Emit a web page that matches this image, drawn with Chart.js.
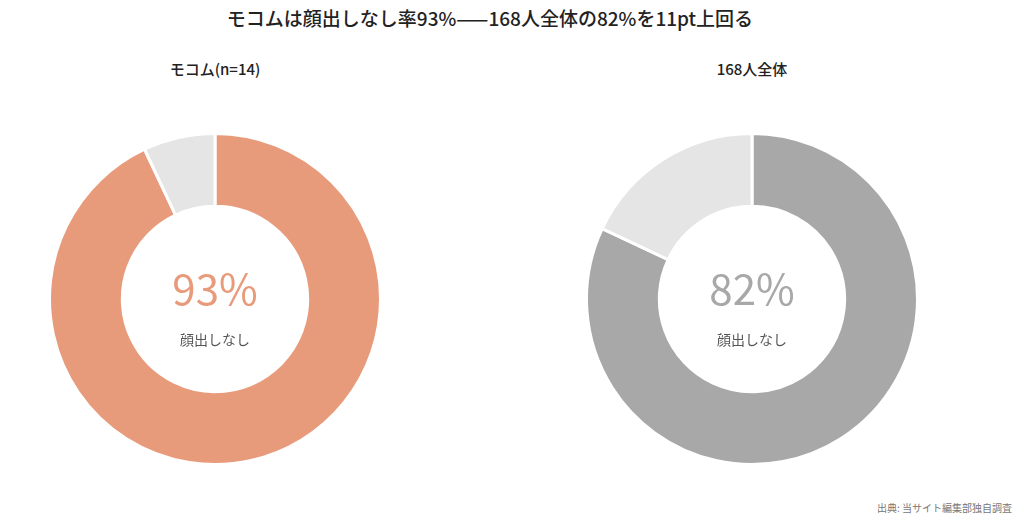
<!DOCTYPE html>
<html>
<head>
<meta charset="utf-8">
<script src="https://cdn.jsdelivr.net/npm/chart.js@4/dist/chart.umd.min.js"></script>
<style>
  body { margin: 0; width: 1024px; height: 523px; background: #fff; position: relative; overflow: hidden;
         font-family: "Noto Sans CJK JP", "Noto Sans", sans-serif; }
  .title { position: absolute; left: 0; width: 980px; top: 4px; text-align: center; font-size: 19px; font-weight: 500; color: #222; }
  .sub { position: absolute; width: 300px; top: 58px; text-align: center; font-size: 15px; font-weight: 500; color: #222; }
  .src { position: absolute; right: 12px; bottom: 8px; font-size: 10px; color: #777; }
  canvas { position: absolute; }
</style>
</head>
<body>
<div class="title">モコムは顔出しなし率93%——168人全体の82%を11pt上回る</div>
<div class="sub" style="left:65px">モコム(n=14)</div>
<div class="sub" style="left:602px">168人全体</div>
<div class="src">出典: 当サイト編集部独自調査</div>
<div style="position:absolute;left:48px;top:132px;width:334px;height:334px"><canvas id="graficoMocom"></canvas></div>
<div style="position:absolute;left:585px;top:132px;width:334px;height:334px"><canvas id="graficoTotal"></canvas></div>
<script>
// データ
const categorias = ['顔出しなし', '顔出しあり'];
const mocomValores = [93, 7];
const totalValores = [82, 18];
const rotuloCentral = '顔出しなし';

// 中央テキスト
const textoCentral = {
  id: 'textoCentral',
  afterDraw(chart, args, opts) {
    const { ctx } = chart;
    const meta = chart.getDatasetMeta(0).data[0];
    const x = meta.x, y = meta.y;
    ctx.save();
    ctx.textAlign = 'center';
    ctx.textBaseline = 'middle';
    ctx.fillStyle = opts.color;
    ctx.font = '400 42px "Noto Sans CJK JP", "Noto Sans", sans-serif';
    ctx.fillText(chart.data.datasets[0].data[0] + '%', x, y - 10);
    ctx.fillStyle = '#555';
    ctx.font = '400 14px "Noto Sans CJK JP", "Noto Sans", sans-serif';
    ctx.fillText(rotuloCentral, x, y + 41);
    ctx.restore();
  }
};

function renderDonut(id, valores, cores, corTexto) {
  const ctx = document.getElementById(id).getContext('2d');
  new Chart(ctx, {
    type: 'doughnut',
    data: {
      labels: categorias,
      datasets: [{
        data: valores,
        backgroundColor: cores,
        borderColor: '#fff',
        borderWidth: 3
      }]
    },
    options: {
      responsive: true,
      maintainAspectRatio: false,
      animation: false,
      cutout: '56%',
      layout: { padding: 0 },
      plugins: {
        legend: { display: false },
        tooltip: { enabled: false },
        textoCentral: { color: corTexto }
      }
    },
    plugins: [textoCentral]
  });
}

renderDonut('graficoMocom', mocomValores, ['#e89b7b', '#e5e5e5'], '#e89b7b');
renderDonut('graficoTotal', totalValores, ['#a8a8a8', '#e5e5e5'], '#a8a8a8');
</script>
</body>
</html>
